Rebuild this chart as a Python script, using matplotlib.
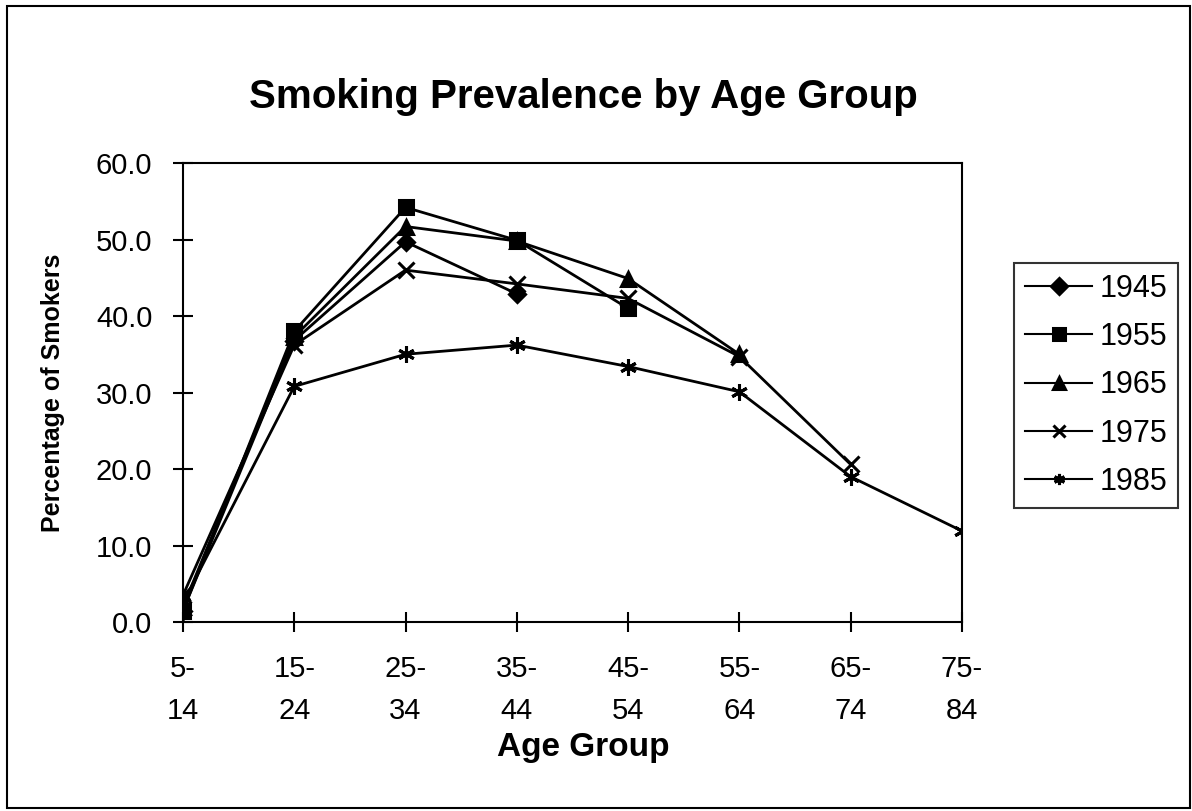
import matplotlib.pyplot as plt
from matplotlib.patches import Rectangle
from matplotlib.ticker import FormatStrFormatter

plt.rcParams['font.family'] = ['Liberation Sans', 'DejaVu Sans']

# Age groups on the x axis
age_groups = ['5-\n14', '15-\n24', '25-\n34', '35-\n44', '45-\n54', '55-\n64', '65-\n74', '75-\n84']

# Smoking prevalence (%) per survey year
prev_1945 = [1.5, 36.8, 49.7, 42.9]
prev_1955 = [1.5, 38.0, 54.2, 49.9, 41.0]
prev_1965 = [2.0, 37.3, 51.7, 49.8, 44.9, 35.0]
prev_1975 = [3.5, 36.2, 46.0, 44.2, 42.3, 34.7, 20.6]
prev_1985 = [2.5, 30.8, 35.0, 36.2, 33.4, 30.1, 19.0, 11.9]

years = ['1945', '1955', '1965', '1975', '1985']
series = [prev_1945, prev_1955, prev_1965, prev_1975, prev_1985]
markers = ['D', 's', '^', 'x', (6, 2, 0)]
msizes = [8, 10, 10, 11, 12]

fig = plt.figure(figsize=(11.92, 8.11), dpi=100)
ax = fig.add_axes([0.1535, 0.233, 0.6535, 0.566])

for yr, vals, mk, ms in zip(years, series, markers, msizes):
    ax.plot(range(len(vals)), vals, color='black', linewidth=2.0,
            marker=mk, markersize=ms, markeredgewidth=2.2,
            markerfacecolor='black', markeredgecolor='black', label=yr)

ax.set_xlim(0, len(age_groups) - 1)
ax.set_ylim(0, 60)
ax.set_xticks(range(len(age_groups)))
ax.set_xticklabels(age_groups, fontsize=21, linespacing=1.6)
ax.set_yticks(range(0, 61, 10))
ax.yaxis.set_major_formatter(FormatStrFormatter('%.1f'))
ax.tick_params(axis='y', labelsize=21, direction='inout', length=14, width=1.5, pad=15)
ax.tick_params(axis='x', direction='inout', length=14, width=1.5, pad=17)
for s in ax.spines.values():
    s.set_linewidth(1.5)

ax.set_xlabel('Age Group', fontsize=24, fontweight='bold', labelpad=5)
ax.xaxis.label.set_x(0.514)
ax.set_ylabel('Percentage of Smokers', fontsize=18, fontweight='bold', labelpad=22)
fig.text(0.489, 0.88, 'Smoking Prevalence by Age Group', fontsize=29,
         fontweight='bold', ha='center', va='center')

leg = ax.legend(loc='center left', bbox_to_anchor=(0.851, 0.525),
                bbox_transform=fig.transFigure, fontsize=22, frameon=True,
                fancybox=False, edgecolor='black', handlelength=2.2,
                handletextpad=0.25, labelspacing=0.6, borderpad=0.35,
                borderaxespad=0)
leg.get_frame().set_linewidth(1.5)
for h in leg.legend_handles:
    h.set_linewidth(1.5)
    h.set_markersize(8)

# outer frame
fig.patches.append(Rectangle((0.006, 0.004), 0.992, 0.989, transform=fig.transFigure,
                             fill=False, edgecolor='black', linewidth=1.5))

fig.savefig('out.png', dpi=100)
